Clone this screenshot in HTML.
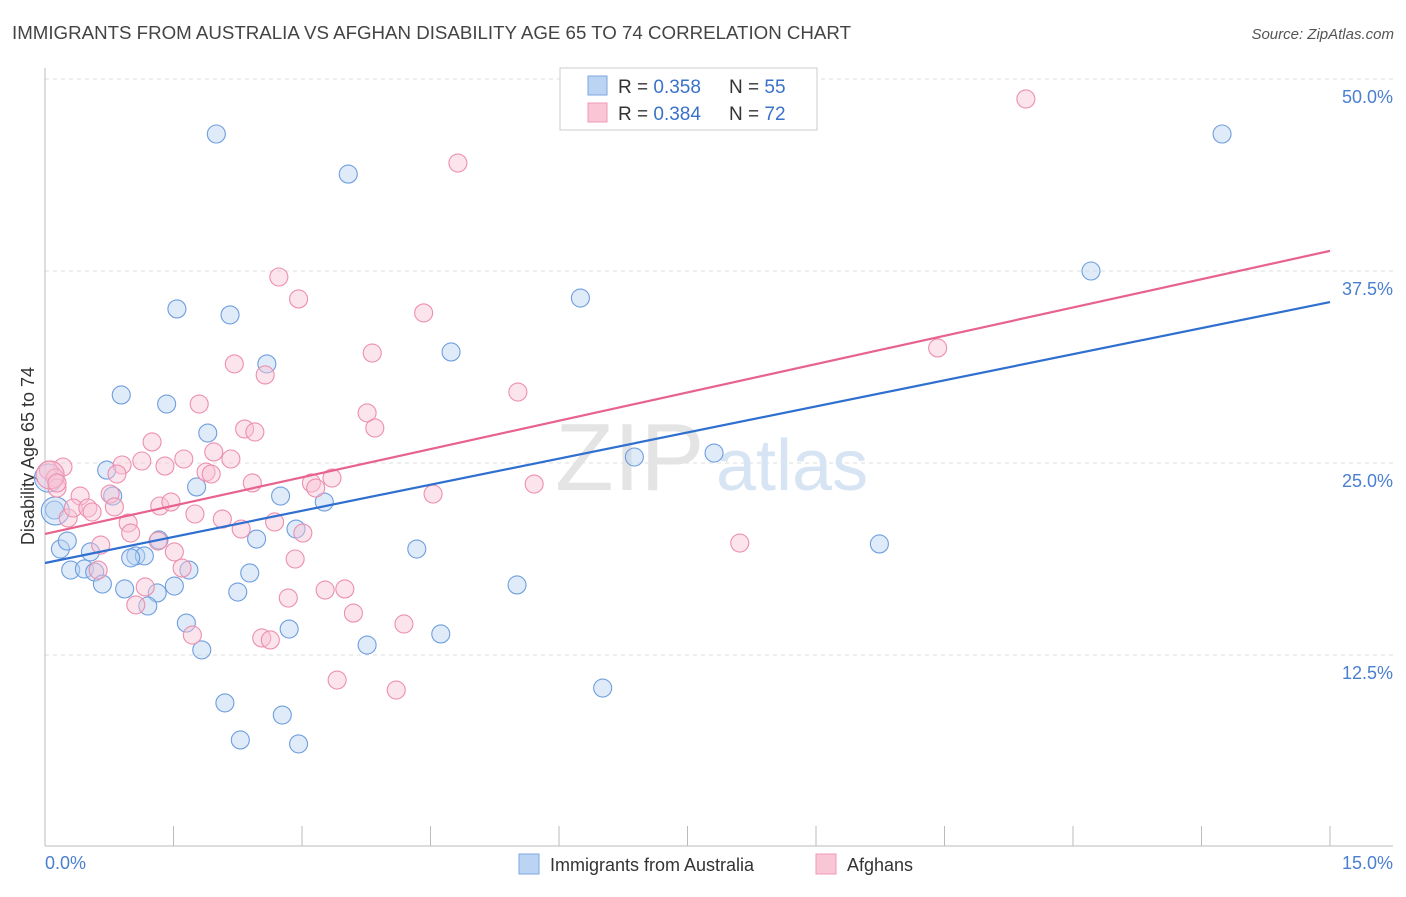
<!DOCTYPE html>
<html><head><meta charset="utf-8"><style>
body{margin:0;background:#fff;font-family:"Liberation Sans",sans-serif}
svg text{font-family:"Liberation Sans",sans-serif}
</style></head><body>
<svg width="1406" height="892" viewBox="0 0 1406 892" xmlns="http://www.w3.org/2000/svg">
<text x="12" y="39" font-size="18" fill="#444" textLength="839" lengthAdjust="spacingAndGlyphs">IMMIGRANTS FROM AUSTRALIA VS AFGHAN DISABILITY AGE 65 TO 74 CORRELATION CHART</text>
<text x="1394" y="39" font-size="15" fill="#555" text-anchor="end" font-style="italic">Source: ZipAtlas.com</text>
<g id="grid"></g>
<text x="555" y="490" font-size="96" fill="#e4e4e4" font-family="Liberation Serif">ZIP</text>
<text x="716" y="490" font-size="72" fill="#d6e4f3">atlas</text>
<line x1="45" y1="68" x2="45" y2="846" stroke="#bbb"/>
<line x1="45" y1="846" x2="1393" y2="846" stroke="#bbb"/>
<g id="ticks"></g>
<text transform="translate(34,456) rotate(-90)" font-size="18" fill="#333" text-anchor="middle">Disability Age 65 to 74</text>
<text x="45" y="869" font-size="18" fill="#4a7fd0">0.0%</text>
<text x="1393" y="869" font-size="18" fill="#4a7fd0" text-anchor="end">15.0%</text>
<g id="points"></g>
<g id="lines"></g>
<g>
<rect x="560" y="68" width="257" height="62" fill="#fff" stroke="#ccc"/>
<rect x="588" y="76" width="19" height="19" fill="#bcd4f3" stroke="#7ea6e0"/>
<rect x="588" y="103" width="19" height="19" fill="#f9c6d6" stroke="#ee9ab5"/>
<text x="618" y="93" font-size="19" fill="#333">R = <tspan fill="#3a72c8">0.358</tspan></text>
<text x="729" y="93" font-size="19" fill="#333">N = <tspan fill="#3a72c8">55</tspan></text>
<text x="618" y="120" font-size="19" fill="#333">R = <tspan fill="#3a72c8">0.384</tspan></text>
<text x="729" y="120" font-size="19" fill="#333">N = <tspan fill="#3a72c8">72</tspan></text>
</g>
<g>
<rect x="519" y="854" width="20" height="20" fill="#bcd4f3" stroke="#7ea6e0"/>
<text x="550" y="871" font-size="18" fill="#333">Immigrants from Australia</text>
<rect x="816" y="854" width="20" height="20" fill="#f9c6d6" stroke="#ee9ab5"/>
<text x="847" y="871" font-size="18" fill="#333">Afghans</text>
</g>
</svg>
<script>
const yTicks=[12.5,25,37.5,50];
const yTickLabels=["12.5%","25.0%","37.5%","50.0%"];
const xTicks=[0,1.5,3,4.5,6,7.5,9,10.5,12,13.5,15];
const blueX=[2.00,3.54,13.74,12.21,1.54,2.16,6.25,2.59,4.74,0.89,1.42,1.90,6.88,7.81,0.72,0.79,1.77,2.75,3.26,0.11,0.12,2.93,2.47,1.33,0.18,0.53,0.26,4.34,9.74,0.30,0.46,0.58,1.06,1.16,1.00,1.68,2.39,0.67,0.93,1.31,1.51,2.25,5.51,1.20,1.65,2.85,4.62,3.76,1.83,6.51,2.10,2.77,2.28,2.96,0.04];
const blueY=[46.42,43.81,46.42,37.50,35.03,34.64,35.74,31.45,32.23,29.43,28.84,26.95,25.39,25.65,24.54,22.85,23.44,22.85,22.46,21.94,21.88,20.70,20.05,19.99,19.40,19.21,19.92,19.40,19.73,18.03,18.10,17.90,18.95,18.95,18.82,18.03,17.84,17.12,16.80,16.54,16.99,16.60,17.06,15.69,14.58,14.19,13.87,13.15,12.83,10.35,9.38,8.59,6.97,6.71,24.02];
const blueBig=[20,54];
const pinkX=[11.45,4.82,2.73,2.96,4.42,3.82,10.42,2.21,2.57,5.52,1.80,3.76,3.85,1.25,2.33,2.45,1.97,1.62,1.13,0.90,1.40,2.17,1.88,1.94,0.21,0.04,0.12,0.14,0.41,0.76,0.84,2.42,3.11,3.35,3.16,4.53,5.71,0.27,0.33,0.50,0.55,0.81,0.97,1.34,1.47,1.75,2.07,2.29,2.68,3.01,1.32,0.65,1.00,1.51,2.92,8.11,0.62,1.60,1.17,3.27,3.50,2.84,1.06,3.60,4.19,1.72,2.53,2.63,3.41,4.10,0.06,0.14];
const pinkY=[48.70,44.53,37.11,35.68,34.77,32.16,32.49,31.45,30.73,29.62,28.84,28.26,27.28,26.37,27.21,27.02,25.72,25.26,25.13,24.87,24.80,25.26,24.41,24.28,24.74,24.54,24.02,23.37,22.85,22.98,24.28,23.70,23.70,24.02,23.37,22.98,23.63,21.42,22.07,22.07,21.81,22.14,21.09,22.20,22.46,21.68,21.35,20.70,21.16,20.44,19.92,19.66,20.44,19.21,18.75,19.79,18.03,18.16,16.93,16.73,16.80,16.21,15.76,15.23,14.52,13.80,13.61,13.48,10.87,10.22,24.22,23.70];
const pinkBig=[70];
const blueLine=[18.49,35.48];
const pinkLine=[20.38,38.81];
const NS="http://www.w3.org/2000/svg";
const xs=v=>45+v/15*1285;
const ys=v=>847-v/12.5*192;
function mk(tag,attrs,parent){const e=document.createElementNS(NS,tag);for(const k in attrs)e.setAttribute(k,attrs[k]);document.getElementById(parent).appendChild(e);return e;}
yTicks.forEach((t,i)=>{
 const l=mk('line',{x1:45,x2:1393,y1:ys(t),y2:ys(t),stroke:'#ddd','stroke-dasharray':'4,4'},'grid');
 
 
 const tx=mk('text',{x:1393,y:ys(t)+24,'font-size':18,fill:'#4a7fd0','text-anchor':'end'},'grid');
 tx.textContent=yTickLabels[i];
 
 
});
xTicks.forEach(t=>{
 const l=mk('line',{x1:xs(t),x2:xs(t),y1:826,y2:846,stroke:'#bbb'},'ticks');
 
 
});
function pts(X,Y,big,fill,stroke,name){
 X.forEach((x,i)=>{
  const c=mk('circle',{cx:xs(x),cy:ys(Y[i]),r:big.includes(i)?14:9,fill:fill,'fill-opacity':0.45,stroke:stroke,'stroke-width':1.1},'points');
  
  
 });
}
pts(blueX,blueY,blueBig,'#b9d2f2','#6e9ede','point-australia');
pts(pinkX,pinkY,pinkBig,'#f9c3d4','#ec8fae','point-afghans');
const bl=mk('line',{x1:xs(0),y1:ys(blueLine[0]),x2:xs(15),y2:ys(blueLine[1]),stroke:'#2f6fd0','stroke-width':2.2},'lines');


const pl=mk('line',{x1:xs(0),y1:ys(pinkLine[0]),x2:xs(15),y2:ys(pinkLine[1]),stroke:'#e8628e','stroke-width':2.2},'lines');


</script>
</body></html>
